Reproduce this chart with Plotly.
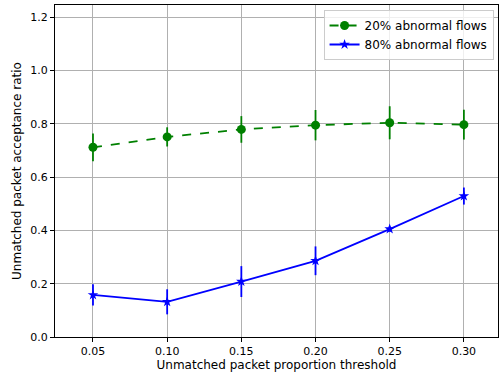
import plotly.graph_objects as go

thresholds = [0.05, 0.10, 0.15, 0.20, 0.25, 0.30]
ratio_20 = [0.712, 0.751, 0.779, 0.795, 0.804, 0.797]
err_20 = [0.052, 0.036, 0.050, 0.057, 0.062, 0.056]
ratio_80 = [0.158, 0.132, 0.208, 0.286, 0.405, 0.529]
err_80 = [0.040, 0.047, 0.058, 0.054, 0.010, 0.032]
x_ticks = [0.05, 0.10, 0.15, 0.20, 0.25, 0.30]
x_tick_labels = ["0.05", "0.10", "0.15", "0.20", "0.25", "0.30"]
y_ticks = [0.0, 0.2, 0.4, 0.6, 0.8, 1.0, 1.2]
y_tick_labels = ["0.0", "0.2", "0.4", "0.6", "0.8", "1.0", "1.2"]

fig = go.Figure()
fig.add_trace(go.Scatter(
    x=thresholds, y=ratio_20, name="20% abnormal flows", mode="lines+markers",
    line=dict(color="green", width=1.8, dash="dash"),
    marker=dict(symbol="circle", size=9, color="green"),
    error_y=dict(type="data", array=err_20, color="green", thickness=1.8, width=0),
))
fig.add_trace(go.Scatter(
    x=thresholds, y=ratio_80, name="80% abnormal flows", mode="lines+markers",
    line=dict(color="blue", width=1.8),
    marker=dict(symbol="star", size=8, color="blue"),
    error_y=dict(type="data", array=err_80, color="blue", thickness=1.8, width=0),
))

axis_common = dict(
    showline=True, linecolor="black", linewidth=1, mirror=True,
    showgrid=True, gridcolor="#b0b0b0", gridwidth=1,
    ticks="outside", ticklen=4, tickcolor="black",
    zeroline=False, automargin=False,
    tickfont=dict(family="DejaVu Sans", size=11, color="black"),
)
fig.update_xaxes(range=[0.0244, 0.323], tickvals=x_ticks, ticktext=x_tick_labels,
                 title=dict(text="Unmatched packet proportion threshold",
                            font=dict(family="DejaVu Sans", size=12, color="black"), standoff=3),
                 **axis_common)
fig.update_yaxes(range=[0, 1.246], tickvals=y_ticks, ticktext=y_tick_labels,
                 title=dict(text="Unmatched packet acceptance ratio",
                            font=dict(family="DejaVu Sans", size=12, color="black"), standoff=6),
                 **axis_common)

fig.update_layout(
    width=499, height=379,
    margin=dict(l=55, r=1, t=5, b=42, autoexpand=False),
    plot_bgcolor="white", paper_bgcolor="white",
    font=dict(family="DejaVu Sans", size=11, color="black"),
    legend=dict(x=0.99, y=0.985, xanchor="right", yanchor="top",
                bgcolor="rgba(255,255,255,0.8)", bordercolor="#cccccc", borderwidth=1,
                font=dict(family="DejaVu Sans", size=12, color="black"),
                tracegroupgap=0, itemwidth=30),
)

fig.write_html("out.html", config={"displayModeBar": False},
               post_script="document.body.style.margin='0';document.body.style.overflow='hidden';")
